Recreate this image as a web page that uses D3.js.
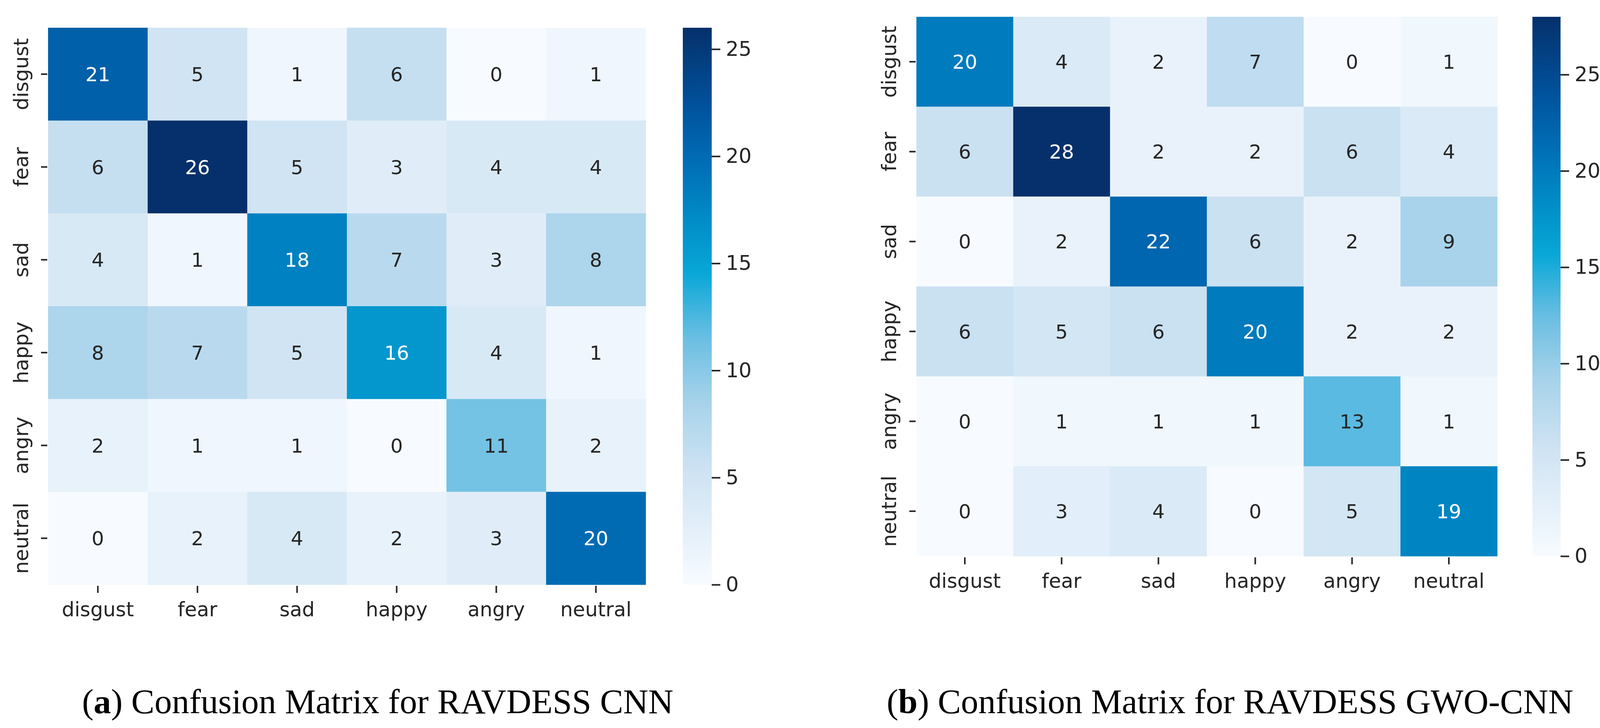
<!DOCTYPE html>
<html>
<head>
<meta charset="utf-8">
<script src="https://cdn.jsdelivr.net/npm/d3@7"></script>
<style>
  html, body { margin: 0; padding: 0; background: #fff; }
  svg { display: block; }
</style>
</head>
<body>
<div id="chart"></div>
<script>
// classes (same order on both axes)
const labels = ["disgust", "fear", "sad", "happy", "angry", "neutral"];

// rows = true class, columns = predicted
const cnnMatrix = [
    [21, 5, 1, 6, 0, 1],
    [6, 26, 5, 3, 4, 4],
    [4, 1, 18, 7, 3, 8],
    [8, 7, 5, 16, 4, 1],
    [2, 1, 1, 0, 11, 2],
    [0, 2, 4, 2, 3, 20]
];

const gwoMatrix = [
    [20, 4, 2, 7, 0, 1],
    [6, 28, 2, 2, 6, 4],
    [0, 2, 22, 6, 2, 9],
    [6, 5, 6, 20, 2, 2],
    [0, 1, 1, 1, 13, 1],
    [0, 3, 4, 0, 5, 19]
];

const colorbarTicks = [0, 5, 10, 15, 20, 25];

const captions = [
    { tag: "a", text: " Confusion Matrix for RAVDESS CNN" },
    { tag: "b", text: " Confusion Matrix for RAVDESS GWO-CNN" }
];

// the printed "Blues" map is more saturated than the stock one
const rampStops = [0, 0.2, 0.33, 0.45, 0.56, 0.66, 0.76, 0.86, 1];
const rampColors = ["#f7fbff", "#cfe3f3", "#a6d2ea", "#66bde2", "#08a7d7",
    "#008bc6", "#006db5", "#00529c", "#06306b"];

const W = 4121, H = 1864;
const textColor = "#262626";
const sans = "'DejaVu Sans', sans-serif";

const ramp = d3.scaleLinear().domain(rampStops).range(rampColors)
    .interpolate(d3.interpolateRgb).clamp(true);

const svg = d3.select("#chart").append("svg")
    .attr("width", W)
    .attr("height", H)
    .attr("viewBox", [0, 0, W, H]);

svg.append("rect").attr("width", W).attr("height", H).attr("fill", "#fff");

const defs = svg.append("defs");

// relative luminance, like seaborn picks the annotation colour
function luminance(c) {
    const rgb = d3.rgb(c);
    const lin = v => {
        v = v / 255;
        return v <= 0.03928 ? v / 12.92 : Math.pow((v + 0.055) / 1.055, 2.4);
    };
    return 0.2126 * lin(rgb.r) + 0.7152 * lin(rgb.g) + 0.0722 * lin(rgb.b);
}

function heatmap(matrix, opt, idx) {
    const g = svg.append("g");
    const vmax = d3.max(matrix.flat());

    const x = d3.scaleBand().domain(labels).range([opt.x, opt.x + opt.w]);
    const y = d3.scaleBand().domain(labels).range([opt.y, opt.y + opt.h]);
    const color = d3.scaleSequential(ramp).domain([0, vmax]);
    // text colour is chosen from the stock colormap, as seaborn did
    const stock = d3.scaleSequential(d3.interpolateBlues).domain([0, vmax]);

    const cells = [];
    matrix.forEach((row, i) => row.forEach((v, j) => {
        cells.push({ row: labels[i], col: labels[j], value: v });
    }));

    g.selectAll("rect.cell")
        .data(cells)
        .join("rect")
        .attr("class", "cell")
        .attr("x", d => x(d.col))
        .attr("y", d => y(d.row))
        .attr("width", x.bandwidth() + 0.5)
        .attr("height", y.bandwidth() + 0.5)
        .attr("fill", d => color(d.value));

    g.selectAll("text.annot")
        .data(cells)
        .join("text")
        .attr("class", "annot")
        .attr("x", d => x(d.col) + x.bandwidth() / 2)
        .attr("y", d => y(d.row) + y.bandwidth() / 2)
        .attr("dy", "0.36em")
        .attr("text-anchor", "middle")
        .attr("font-family", sans)
        .attr("font-size", 50)
        .attr("fill", d => luminance(stock(d.value)) > 0.408 ? textColor : "#ffffff")
        .text(d => d.value);

    // x ticks
    const xt = g.append("g");
    labels.forEach(l => {
        const cx = x(l) + x.bandwidth() / 2;
        xt.append("line")
            .attr("x1", cx).attr("x2", cx)
            .attr("y1", opt.y + opt.h + 3).attr("y2", opt.y + opt.h + 21)
            .attr("stroke", textColor).attr("stroke-width", 4);
        xt.append("text")
            .attr("x", cx)
            .attr("y", opt.xLabelBase)
            .attr("text-anchor", "middle")
            .attr("font-family", sans)
            .attr("font-size", 51)
            .attr("fill", textColor)
            .text(l);
    });

    // y ticks, rotated labels
    const yt = g.append("g");
    labels.forEach(l => {
        const cy = y(l) + y.bandwidth() / 2;
        yt.append("line")
            .attr("x1", opt.x - 18).attr("x2", opt.x - 2)
            .attr("y1", cy).attr("y2", cy)
            .attr("stroke", textColor).attr("stroke-width", 4);
        yt.append("text")
            .attr("transform", `translate(${opt.yLabelBase},${cy}) rotate(-90)`)
            .attr("text-anchor", "middle")
            .attr("font-family", sans)
            .attr("font-size", 51)
            .attr("fill", textColor)
            .text(l);
    });

    // colorbar
    const gradId = "grad" + idx;
    const grad = defs.append("linearGradient")
        .attr("id", gradId)
        .attr("x1", 0).attr("x2", 0).attr("y1", 1).attr("y2", 0);
    grad.selectAll("stop")
        .data(d3.range(0, 1.0001, 0.02))
        .join("stop")
        .attr("offset", t => t)
        .attr("stop-color", t => color(t * vmax));

    g.append("rect")
        .attr("x", opt.cbX)
        .attr("y", opt.y)
        .attr("width", opt.cbW)
        .attr("height", opt.h)
        .attr("fill", `url(#${gradId})`);

    const cb = d3.scaleLinear().domain([0, vmax]).range([opt.y + opt.h, opt.y]);
    const axis = d3.axisRight(cb)
        .tickValues(colorbarTicks)
        .tickSize(22)
        .tickPadding(14)
        .tickFormat(d3.format("d"));

    const ag = g.append("g")
        .attr("transform", `translate(${opt.cbX + opt.cbW},0)`)
        .call(axis);
    ag.select(".domain").remove();
    ag.selectAll(".tick line").attr("stroke", textColor).attr("stroke-width", 4);
    ag.selectAll(".tick text")
        .attr("font-family", sans)
        .attr("font-size", 52)
        .attr("fill", textColor);
}

heatmap(cnnMatrix, {
    x: 123, y: 71, w: 1530, h: 1426,
    cbX: 1748, cbW: 74,
    xLabelBase: 1578, yLabelBase: 72
}, 0);

heatmap(gwoMatrix, {
    x: 2346, y: 43, w: 1487, h: 1381,
    cbX: 3923, cbW: 72,
    xLabelBase: 1505, yLabelBase: 2294
}, 1);

// captions under each panel
const capPos = [
    { x: 210, width: 1514 },
    { x: 2270, width: 1758 }
];

captions.forEach((c, i) => {
    const t = svg.append("text")
        .attr("x", capPos[i].x)
        .attr("y", 1826)
        .attr("font-family", "'Liberation Serif', 'DejaVu Serif', serif")
        .attr("font-size", 88)
        .attr("fill", "#000");
    t.append("tspan").text("(");
    t.append("tspan").attr("font-weight", "bold").text(c.tag);
    t.append("tspan").text(")" + c.text);
    // fit the caption to the measured width
    const wNow = t.node().getComputedTextLength();
    t.attr("font-size", 88 * capPos[i].width / wNow);
});
</script>
</body>
</html>
